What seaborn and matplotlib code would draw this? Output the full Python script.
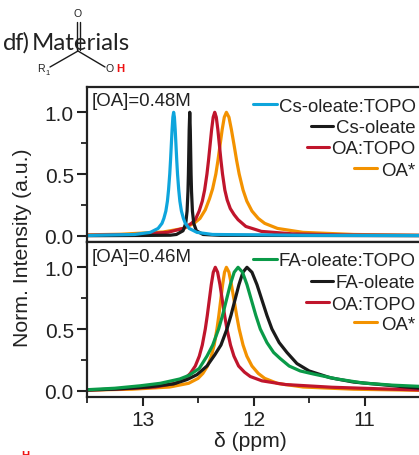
import matplotlib
matplotlib.use("Agg")
import matplotlib.pyplot as plt
from matplotlib.lines import Line2D
from matplotlib.ticker import FixedLocator
import pandas as pd
import seaborn as sns

cs_topo_x = [13.5,13.07,12.93,12.86,12.825,12.808,12.79,12.776,12.766,12.755,12.748,12.741,12.734,12.727,12.72,12.713,12.706,12.699,12.692,12.685,12.674,12.664,12.65,12.632,12.615,12.58,12.51,12.37,11.5,10.5]
cs_topo_y = [.002,.01,.027,.059,.1,.14,.2,.28,.37,.5,.61,.735,.86,.96,1.0,.96,.86,.735,.61,.5,.37,.28,.2,.14,.1,.059,.027,.01,.003,.002]
cs_x = [13.5,13.0,12.75,12.695,12.635,12.611,12.599,12.591,12.587,12.585,12.58,12.575,12.57,12.565,12.563,12.559,12.551,12.539,12.515,12.455,12.3,10.5]
cs_y = [0,.002,.004,.01,.04,.1,.2,.36,.5,.6,.86,1.0,.86,.6,.5,.36,.2,.1,.04,.01,.003,0]
oat_top_x = [13.5,13.05,12.77,12.63,12.56,12.525,12.49,12.462,12.441,12.42,12.406,12.392,12.378,12.364,12.35,12.336,12.322,12.308,12.294,12.28,12.259,12.238,12.21,12.175,12.14,12.07,11.93,11.65,11.2,10.5]
oat_top_y = [.004,.01,.028,.06,.1,.13,.2,.28,.37,.5,.61,.735,.86,.96,1.0,.96,.86,.735,.61,.5,.37,.29,.22,.17,.13,.075,.035,.015,.006,.003]
oa_top_x = [13.5,13.195,12.815,12.625,12.53,12.483,12.435,12.397,12.369,12.34,12.321,12.302,12.283,12.264,12.245,12.222,12.2,12.176,12.153,12.13,12.095,12.061,12.015,11.958,11.9,11.785,11.555,11.1,10.5]
oa_top_y = [.007,.012,.03,.06,.105,.14,.21,.3,.38,.5,.61,.735,.86,.96,1.0,.96,.86,.735,.61,.5,.37,.28,.2,.14,.1,.059,.027,.01,.003]

fat_x = [13.5,13.25,13.02,12.84,12.665,12.58,12.49,12.42,12.368,12.315,12.28,12.245,12.21,12.175,12.14,12.1,12.06,12.02,11.98,11.94,11.88,11.82,11.76,11.68,11.58,11.46,11.25,11.01,10.75,10.5]
fat_y = [.008,.02,.04,.06,.095,.125,.18,.28,.37,.5,.61,.735,.86,.96,1.0,.96,.86,.735,.61,.5,.39,.31,.26,.2,.16,.135,.095,.062,.045,.035]
fa_x = [13.5,13.25,12.95,12.72,12.6,12.51,12.42,12.35,12.294,12.24,12.204,12.168,12.132,12.096,12.06,12.015,11.97,11.925,11.88,11.835,11.77,11.7,11.61,11.5,11.31,11.1,10.86,10.65,10.5]
fa_y = [.005,.013,.03,.055,.09,.13,.2,.29,.37,.5,.61,.735,.86,.96,1.0,.96,.86,.735,.61,.5,.39,.31,.22,.16,.105,.07,.05,.032,.02]
oat_bot_x = [13.5,13.245,12.885,12.705,12.615,12.57,12.525,12.489,12.462,12.435,12.417,12.399,12.381,12.363,12.345,12.324,12.303,12.282,12.261,12.24,12.208,12.177,12.135,12.082,12.03,11.925,11.715,11.295,10.85,10.5]
oat_bot_y = [.006,.012,.03,.06,.1,.14,.2,.28,.37,.5,.61,.735,.86,.96,1.0,.96,.86,.735,.61,.5,.37,.28,.2,.15,.115,.08,.05,.028,.015,.006]
oa_bot_x = [13.5,13.095,12.755,12.585,12.5,12.457,12.415,12.381,12.355,12.33,12.313,12.296,12.279,12.262,12.245,12.222,12.2,12.176,12.153,12.13,12.095,12.061,12.015,11.958,11.9,11.785,11.555,11.1,10.5]
oa_bot_y = [.005,.012,.03,.06,.1,.14,.2,.28,.37,.5,.61,.735,.86,.96,1.0,.96,.86,.735,.61,.5,.37,.28,.2,.14,.1,.059,.03,.012,.003]

top_series = ["Cs-oleate:TOPO", "Cs-oleate", "OA:TOPO", "OA*"]
bot_series = ["FA-oleate:TOPO", "FA-oleate", "OA:TOPO", "OA*"]
x_ticks = [13, 12, 11]
x_minor = [13.5, 12.5, 11.5]
y_ticks = [0.0, 0.5, 1.0]
y_minor = [0.25, 0.75]

BLUE, BLACK, RED, ORANGE, GREEN = "#0ea5dc", "#1a1a1a", "#c0152c", "#f39200", "#0a9a48"
W, H = 419, 456

sns.set_theme(style="ticks", rc={"font.family": ["Liberation Sans", "DejaVu Sans"]})
fig = plt.figure(figsize=(W / 100, H / 100), dpi=100)
INK = "#222222"


def make_axes(top_px, bottom_px):
    return fig.add_axes([87 / W, 1 - bottom_px / H, (W - 87) / W, (bottom_px - top_px) / H])


def frame(ax, show_x):
    ax.set_xlim(13.5, 10.511)
    ax.set_ylim(-0.051, 1.205)
    ax.spines["right"].set_visible(False)
    for s in ["left", "top", "bottom"]:
        ax.spines[s].set_linewidth(1.6)
        ax.spines[s].set_color(INK)
    ax.set_yticks(y_ticks)
    ax.yaxis.set_minor_locator(FixedLocator(y_minor))
    ax.set_yticklabels([f"{v:.1f}" for v in y_ticks])
    ax.tick_params(axis="y", which="major", length=7.5, width=1.5, color=INK, labelsize=15, labelcolor=INK, pad=2)
    ax.tick_params(axis="y", which="minor", length=4, width=1.3, color=INK)
    ax.set_xlabel("")
    ax.set_ylabel("")
    if show_x:
        ax.set_xticks(x_ticks)
        ax.xaxis.set_minor_locator(FixedLocator(x_minor))
        ax.set_xticklabels([str(v) for v in x_ticks])
        ax.tick_params(axis="x", which="major", length=6.5, width=1.5, color=INK, labelsize=15, labelcolor=INK, pad=3)
        ax.tick_params(axis="x", which="minor", length=4, width=1.3, color=INK)
    else:
        ax.set_xticks([])


def curve(ax, xs, ys, color):
    df = pd.DataFrame({"delta": xs, "intensity": ys})
    sns.lineplot(data=df, x="delta", y="intensity", sort=False, estimator=None, color=color,
                 linewidth=2.3, ax=ax, legend=False, solid_joinstyle="round")


def key(label, y_px, x0, x1, color):
    fig.add_artist(Line2D([x0 / W, x1 / W], [1 - y_px / H] * 2, color=color, lw=2.2, transform=fig.transFigure))
    fig.text(415.5 / W, 1 - y_px / H, label, ha="right", va="center_baseline", fontsize=13.4, color=INK)


ax1 = make_axes(88, 243)
for xs, ys, c in [(oa_top_x, oa_top_y, ORANGE), (oat_top_x, oat_top_y, RED), (cs_x, cs_y, BLACK), (cs_topo_x, cs_topo_y, BLUE)]:
    curve(ax1, xs, ys, c)
frame(ax1, False)

ax2 = make_axes(243, 398)
for xs, ys, c in [(oa_bot_x, oa_bot_y, ORANGE), (oat_bot_x, oat_bot_y, RED), (fa_x, fa_y, BLACK), (fat_x, fat_y, GREEN)]:
    curve(ax2, xs, ys, c)
frame(ax2, True)

for label, y, x0, x1, c in zip(top_series, [105, 127, 148, 169], [253, 311, 307, 354], [277, 333, 329, 377], [BLUE, BLACK, RED, ORANGE]):
    key(label, y, x0, x1, c)
for label, y, x0, x1, c in zip(bot_series, [260, 282, 303, 323], [253, 311, 306, 354], [277, 333, 329, 377], [GREEN, BLACK, RED, ORANGE]):
    key(label, y, x0, x1, c)

fig.text(91.5 / W, 1 - 100 / H, "[OA]=0.48M", ha="left", va="center_baseline", fontsize=13.4, color=INK)
fig.text(91.5 / W, 1 - 255 / H, "[OA]=0.46M", ha="left", va="center_baseline", fontsize=13.4, color=INK)
fig.text(22 / W, 1 - 248 / H, "Norm. Intensity (a.u.)", rotation=90, ha="center", va="center", fontsize=15.3, color=INK)
fig.text(250 / W, 1 - 442 / H, "δ (ppm)", ha="center", va="center", fontsize=15.2, color=INK)

# header and molecule sketch
fig.text(3 / W, 1 - 50 / H, "d", family="Lato", fontsize=17.3, color=INK, va="baseline")
fig.text(14 / W, 1 - 50 / H, "f)", family="Lato", fontsize=17.3, color=INK, va="baseline")
fig.text(32 / W, 1 - 50 / H, "Materials", family="Lato", fontsize=17.3, color=INK, va="baseline")
for seg in [((76.5, 23), (76.5, 51)), ((80, 23), (80, 51)), ((78, 52), (50, 68)), ((78, 52), (105, 68))]:
    (xa, ya), (xb, yb) = seg
    fig.add_artist(Line2D([xa / W, xb / W], [1 - ya / H, 1 - yb / H], color=BLACK, lw=1.0))
fig.text(78 / W, 1 - 14 / H, "O", fontsize=7.6, ha="center", va="center", color=INK)
fig.text(37 / W, 1 - 72 / H, "R", fontsize=7.6, va="baseline", color=INK)
fig.text(45.5 / W, 1 - 75 / H, "1", fontsize=5.4, va="baseline", color=INK)
fig.text(106 / W, 1 - 72 / H, "O", fontsize=7.6, va="baseline", color=INK)
fig.text(116 / W, 1 - 72 / H, "H", fontsize=8.2, weight="bold", va="baseline", color="#ee1111")
fig.text(21.5 / W, 1 - 451.5 / H, "H", fontsize=8.2, weight="bold", va="top", color="#ee1111")

fig.savefig("out.png", dpi=100)
